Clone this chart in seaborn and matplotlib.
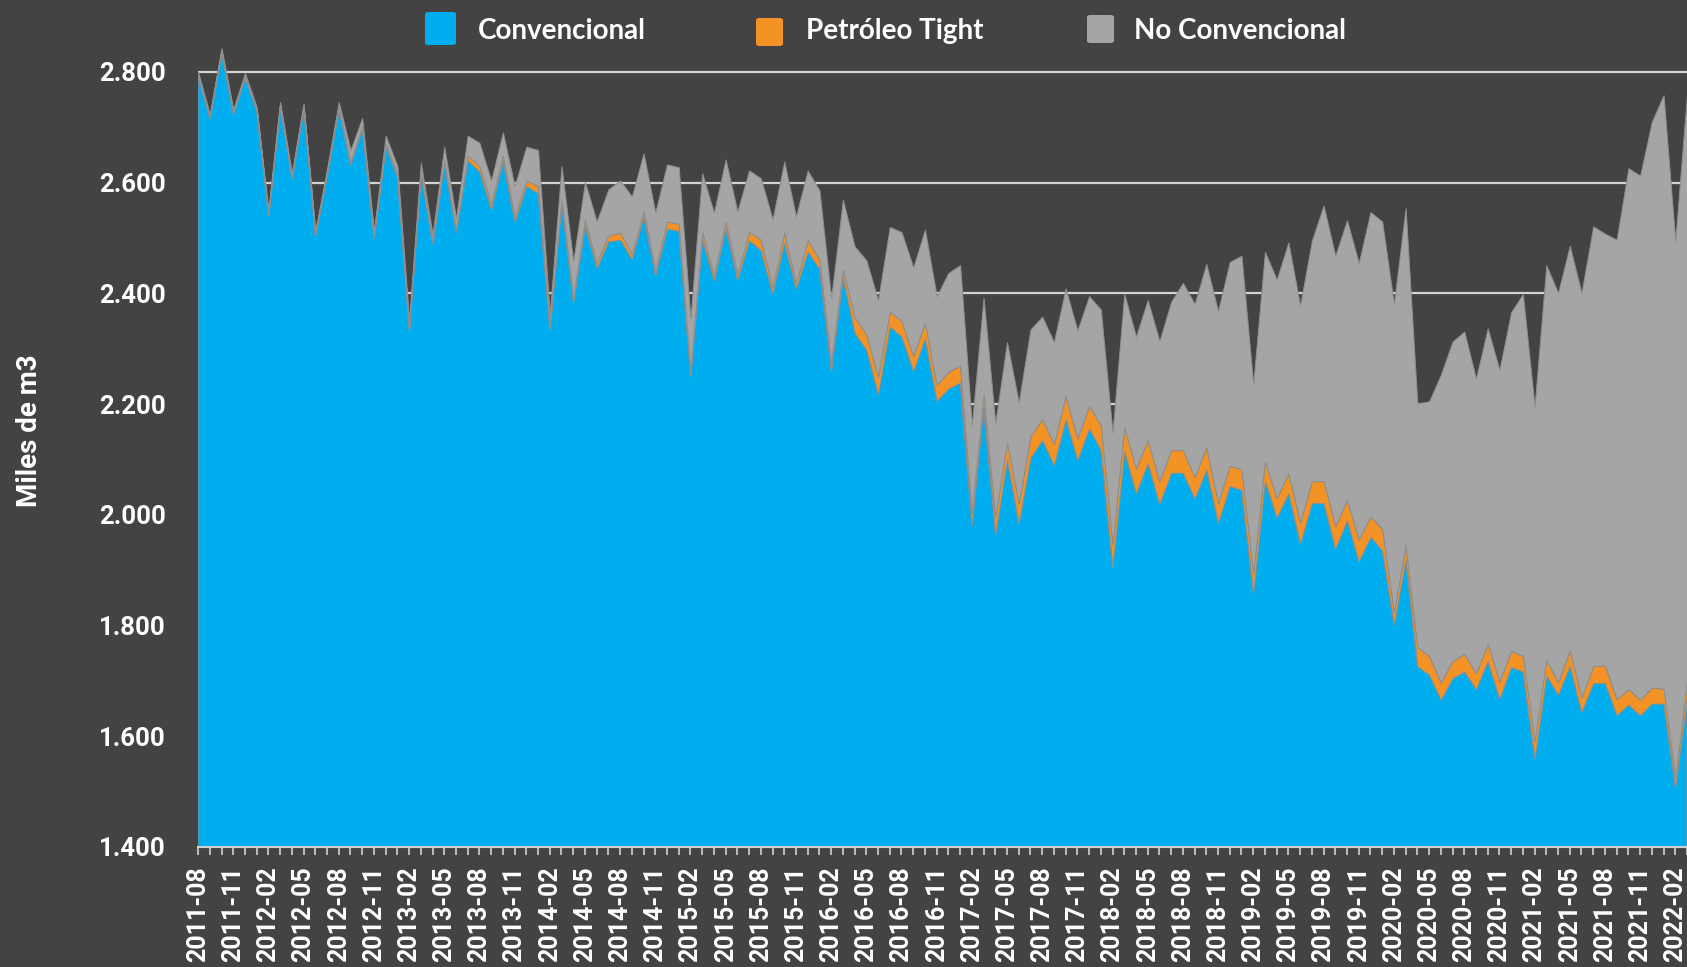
import matplotlib
matplotlib.use("Agg")
import matplotlib.pyplot as plt
import matplotlib.ticker as mticker
from matplotlib.patches import FancyBboxPatch
import seaborn as sns
import pandas as pd

# monthly oil production, miles de m3, 2011-08 .. 2022-03
months = pd.date_range("2011-08-01", periods=128, freq="MS")

conv = [2792, 2716, 2835, 2725, 2790, 2729, 2541, 2737, 2608, 2734,
        2504, 2614, 2733, 2632, 2699, 2501, 2665, 2610, 2333, 2616,
        2490, 2635, 2511, 2640, 2620, 2552, 2640, 2530, 2594, 2581,
        2335, 2565, 2384, 2523, 2446, 2494, 2497, 2462, 2539, 2433,
        2517, 2513, 2251, 2499, 2423, 2518, 2425, 2496, 2478, 2400,
        2492, 2409, 2476, 2444, 2261, 2430, 2329, 2298, 2218, 2340,
        2322, 2260, 2319, 2206, 2228, 2239, 1982, 2197, 1965, 2100,
        1985, 2103, 2135, 2090, 2173, 2099, 2156, 2117, 1906, 2115,
        2039, 2093, 2020, 2076, 2076, 2030, 2082, 1986, 2052, 2045,
        1859, 2062, 1995, 2039, 1948, 2021, 2021, 1939, 1990, 1916,
        1960, 1936, 1802, 1920, 1727, 1711, 1666, 1705, 1717, 1685,
        1736, 1668, 1725, 1717, 1560, 1710, 1675, 1727, 1644, 1696,
        1696, 1638, 1657, 1638, 1659, 1659, 1508, 1670]

tight = [3, 3, 3, 3, 3, 3, 3, 4, 4, 4,
         4, 4, 5, 5, 5, 5, 5, 5, 4, 5,
         5, 5, 5, 9, 10, 10, 9, 9, 10, 13,
         8, 7, 8, 10, 9, 10, 13, 9, 10, 9,
         13, 13, 8, 12, 10, 11, 10, 15, 19, 11,
         18, 10, 20, 17, 13, 14, 28, 28, 31, 27,
         28, 27, 28, 29, 30, 31, 21, 21, 31, 31,
         35, 39, 38, 38, 42, 39, 41, 45, 41, 44,
         44, 42, 40, 41, 41, 38, 40, 35, 37, 37,
         35, 35, 35, 36, 38, 40, 40, 41, 37, 39,
         37, 39, 22, 26, 34, 34, 31, 31, 32, 29,
         31, 31, 29, 28, 31, 28, 22, 28, 26, 31,
         32, 29, 28, 28, 29, 27, 17, 30]

no_conv = [5, 5, 5, 5, 5, 5, 5, 5, 5, 5,
           5, 7, 8, 22, 13, 7, 15, 15, 15, 15,
           12, 25, 20, 36, 42, 42, 42, 55, 61, 65,
           20, 58, 66, 68, 75, 84, 94, 104, 104, 104,
           103, 102, 96, 106, 113, 113, 113, 111, 111, 123,
           128, 120, 126, 125, 118, 125, 128, 134, 139, 153,
           161, 160, 168, 160, 179, 181, 159, 174, 170, 181,
           183, 193, 185, 184, 194, 195, 198, 209, 202, 240,
           239, 253, 254, 268, 302, 313, 331, 347, 368, 386,
           342, 378, 395, 417, 392, 434, 498, 488, 505, 500,
           550, 555, 557, 608, 440, 460, 556, 577, 582, 532,
           570, 563, 612, 654, 605, 713, 704, 731, 731, 794,
           780, 830, 941, 947, 1022, 1072, 970, 1060]

series_names = ["Convencional", "Petróleo Tight", "No Convencional"]
series_colors = ["#00AEEF", "#F39325", "#A5A5A5"]
bg = "#434343"
light = "#d2d2d2"

sns.set_theme(style="dark")
plt.rcParams["font.family"] = ["Roboto", "DejaVu Sans"]

fig = plt.figure(figsize=(16.87, 9.67), dpi=100, facecolor=bg)
ax = fig.add_axes([0.1174, 0.1241, 0.8826, 0.8473])
ax.set_facecolor(bg)

x = list(range(len(months)))
ax.stackplot(x, conv, tight, no_conv, colors=series_colors,
             edgecolor="#8e8e8e", linewidth=0.7, zorder=2)

ax.set_xlim(0, 126.7)
ax.set_ylim(1400, 2880)

# grid behind the areas
ax.set_yticks(range(1400, 2801, 200))
ax.yaxis.grid(True, color=light, linewidth=1.6, zorder=0)
ax.xaxis.grid(False)
ax.set_axisbelow(True)
ax.yaxis.set_major_formatter(
    mticker.FuncFormatter(lambda v, p: f"{v:,.0f}".replace(",", ".")))

major = x[::3]
ax.set_xticks(major)
ax.set_xticklabels([f"{months[i]:%Y-%m}" for i in major], rotation=90,
                   fontsize=18, fontweight="bold", color="white")
ax.set_xticks(x, minor=True)
ax.tick_params(axis="x", which="both", bottom=True, length=6, width=1.2,
               color=light, direction="out", pad=8)
ax.tick_params(axis="y", length=0, pad=23, labelsize=18.5, labelcolor="white")
for lab in ax.get_yticklabels():
    lab.set_fontweight("bold")

for side in ["top", "right", "left"]:
    ax.spines[side].set_visible(False)
ax.spines["bottom"].set_color(light)
ax.spines["bottom"].set_linewidth(1.5)

ax.set_ylabel("Miles de m3", fontsize=20, fontweight="bold", color="white")
ax.yaxis.set_label_coords(-0.104, 0.508)
ax.set_xlabel("")

# legend across the top
W, H = fig.get_size_inches() * fig.dpi
legend_items = [(425, 12, 31, 33, 478), (756, 18, 27, 28, 806), (1087, 15, 27, 28, 1134)]
for (px, py, pw, ph, tx), name, color in zip(legend_items, series_names, series_colors):
    fig.patches.append(FancyBboxPatch((px / W, 1 - (py + ph) / H), pw / W, ph / H,
                                      boxstyle="round,pad=0,rounding_size=0.002",
                                      transform=fig.transFigure, facecolor=color,
                                      edgecolor="none"))
    fig.text(tx / W, 1 - 31 / H, name, ha="left", va="center", fontsize=20,
             fontweight="bold", color="white", family=["Lato", "DejaVu Sans"])

fig.savefig("out.png", dpi=100, facecolor=bg)
